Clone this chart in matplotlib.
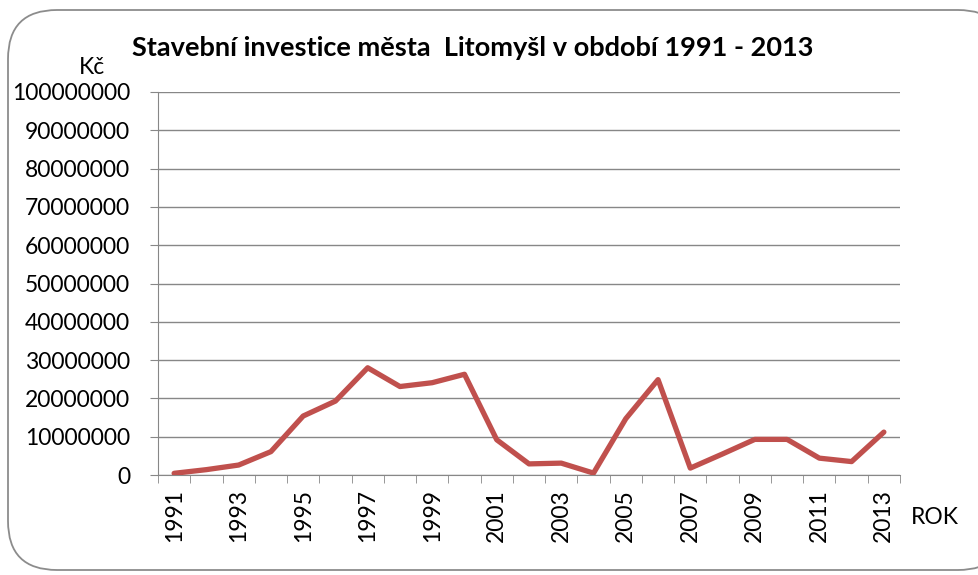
import matplotlib
matplotlib.use("Agg")
import matplotlib.pyplot as plt
import numpy as np
from matplotlib.patches import FancyBboxPatch

plt.rcParams["font.family"] = ["Lato", "DejaVu Sans"]

years = list(range(1991, 2014))
values = [
    0.44e6, 1.4e6, 2.6e6, 6.1e6, 15.4e6, 19.3e6, 28.0e6, 23.1e6, 24.1e6, 26.3e6,
    9.2e6, 2.9e6, 3.1e6, 0.5e6, 14.7e6, 24.9e6, 1.8e6, 5.5e6, 9.3e6, 9.3e6,
    4.4e6, 3.5e6, 11.2e6,
]
y_ticks = list(range(0, 100_000_001, 10_000_000))

W, H = 979, 575
fig = plt.figure(figsize=(W / 100, H / 100), dpi=100)

# rounded frame around the chart
frame = FancyBboxPatch((8 / W, 5 / H), (W + 20) / W, (H - 15) / H,
                       boxstyle="round,pad=0,rounding_size=0.05",
                       transform=fig.transFigure, facecolor="white",
                       edgecolor="#8c8c8c", linewidth=1.3, mutation_aspect=W / H,
                       zorder=-10)
fig.patches.append(frame)

ax = fig.add_axes([158 / W, 1 - 475 / H, (900 - 158) / W, (475 - 92) / H])
ax.set_facecolor("none")
ax.set_zorder(5)

x = np.arange(len(years))
ax.plot(x, values, color="#c0504d", linewidth=3.8, solid_capstyle="round",
        solid_joinstyle="round", zorder=3)

ax.set_xlim(-0.5, len(years) - 0.5)
ax.set_ylim(0, 100_000_000)
ax.set_yticks(y_ticks)
ax.set_yticklabels([str(v) for v in y_ticks], fontsize=16.5)
ax.yaxis.grid(True, color="#878787", linewidth=1)
ax.set_axisbelow(True)

ax.set_xticks(x[::2])
ax.set_xticklabels([str(y) for y in years[::2]], rotation=90, fontsize=16.5)
ax.set_xticks(np.arange(-0.5, len(years)), minor=True)
ax.tick_params(axis="x", which="major", length=0, pad=10)
ax.tick_params(axis="x", which="minor", length=6, color="#878787")
ax.tick_params(axis="y", length=6, color="#878787", pad=14)

for side in ["top", "right"]:
    ax.spines[side].set_visible(False)
for side in ["left", "bottom"]:
    ax.spines[side].set_color("#878787")

fig.text(473 / W, 1 - 48 / H, "Stavební investice města  Litomyšl v období 1991 - 2013",
         ha="center", va="center", fontsize=19.5, fontweight="bold")
fig.text(92 / W, 1 - 68 / H, "Kč", ha="center", va="center", fontsize=16.5)
fig.text(935 / W, 1 - 517 / H, "ROK", ha="center", va="center", fontsize=16.5)

fig.savefig("out.png", dpi=100)
